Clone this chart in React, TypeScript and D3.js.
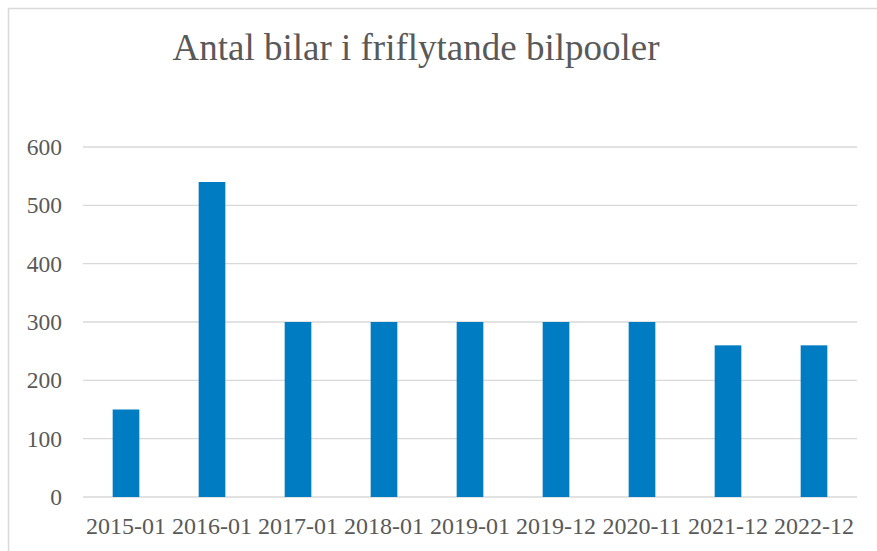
import React, { useEffect, useRef } from "react";
import * as d3 from "d3";

const categories = [
  "2015-01", "2016-01", "2017-01", "2018-01", "2019-01",
  "2019-12", "2020-11", "2021-12", "2022-12",
];
const cars = [150, 540, 300, 300, 300, 300, 300, 260, 260];
const yTicks = [0, 100, 200, 300, 400, 500, 600];
const title = "Antal bilar i friflytande bilpooler";

const W = 877;
const H = 551;

const App: React.FC = () => {
  const svgRef = useRef<SVGSVGElement>(null);

  useEffect(() => {
    if (!svgRef.current) return;
    const root = d3.select(svgRef.current);
    root.selectAll("*").remove();

    const font = "'Liberation Serif', 'Times New Roman', serif";
    const textColor = "#595959";

    // chart frame
    root.append("rect")
      .attr("x", 8.5).attr("y", 8.5)
      .attr("width", W + 20).attr("height", H + 20)
      .attr("fill", "#fff")
      .attr("stroke", "#d9d9d9")
      .attr("stroke-width", 1.5);

    const left = 83, right = 857, top = 147, bottom = 497;

    const x = d3.scaleBand<string>()
      .domain(categories)
      .range([left, right])
      .paddingInner(0.69)
      .paddingOuter(0.345);

    const y = d3.scaleLinear().domain([0, 600]).range([bottom, top]);

    // gridlines
    root.append("g")
      .selectAll("line")
      .data(yTicks)
      .join("line")
      .attr("x1", left).attr("x2", right)
      .attr("y1", d => y(d)).attr("y2", d => y(d))
      .attr("stroke", "#d9d9d9")
      .attr("stroke-width", 1.3);

    // y labels
    root.append("g")
      .selectAll("text")
      .data(yTicks)
      .join("text")
      .attr("x", 62)
      .attr("y", d => y(d))
      .attr("dy", "0.34em")
      .attr("text-anchor", "end")
      .attr("font-family", font)
      .attr("font-size", 23.5)
      .attr("fill", textColor)
      .text(d => d);

    // bars
    root.append("g")
      .selectAll("rect")
      .data(cars)
      .join("rect")
      .attr("x", (d, i) => x(categories[i])!)
      .attr("y", d => y(d))
      .attr("width", x.bandwidth())
      .attr("height", d => y(0) - y(d))
      .attr("fill", "#007cc2");

    // x labels
    root.append("g")
      .selectAll("text")
      .data(categories)
      .join("text")
      .attr("x", d => x(d)! + x.bandwidth() / 2)
      .attr("y", 534)
      .attr("text-anchor", "middle")
      .attr("font-family", font)
      .attr("font-size", 24)
      .attr("fill", textColor)
      .text(d => d);

    // title
    root.append("text")
      .attr("x", 416)
      .attr("y", 60)
      .attr("text-anchor", "middle")
      .attr("font-family", font)
      .attr("font-size", 37)
      .attr("fill", textColor)
      .text(title);
  }, []);

  return (
    <svg
      ref={svgRef}
      width={W}
      height={H}
      style={{ position: "absolute", left: 0, top: 0, background: "#fff" }}
    />
  );
};

export default App;
